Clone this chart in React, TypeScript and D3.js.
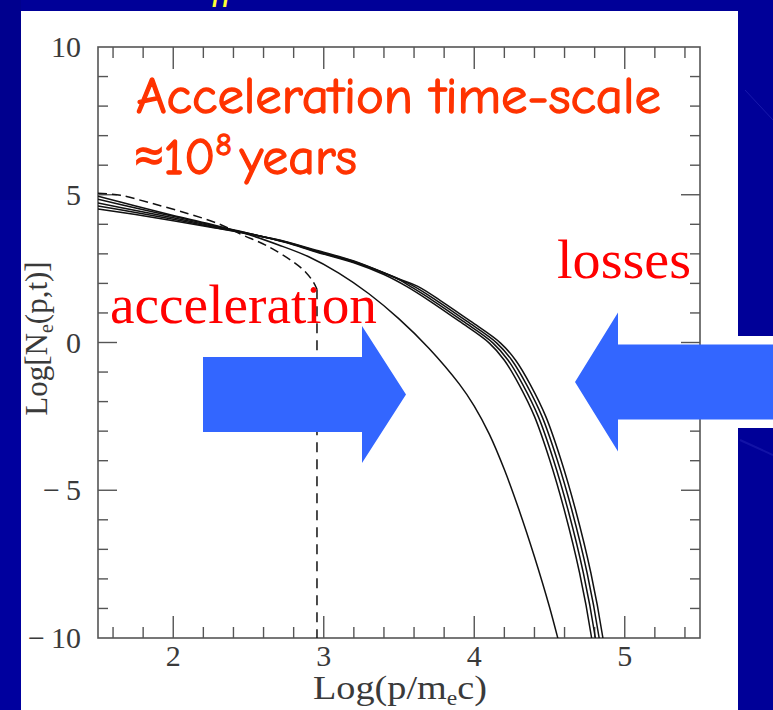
import React from "react";
import * as d3 from "d3";

// Electron spectra Log N_e(p,t) versus Log(p / m_e c) at successive times
const xTickValues = [2, 3, 4, 5];
const yTickValues = [10, 5, 0, -5, -10];
const yTickLabels = ["10", "5", "0", "\u2212\u20095", "\u2212\u200910"];

const spectrumA = [
  [1.5, 4.95], [1.75, 4.62], [2.0, 4.3], [2.25, 4.0], [2.5, 3.65], [2.7, 3.3],
  [2.9, 2.9], [3.1, 2.35], [3.3, 1.65], [3.5, 0.8], [3.7, -0.2], [3.9, -1.4],
  [4.0, -2.15], [4.1, -3.1], [4.2, -4.3], [4.3, -5.7], [4.4, -7.25], [4.5, -8.95],
  [4.56, -10.1], [4.58, -10.5],
];
const spectrumB = [
  [1.5, 4.85], [1.75, 4.55], [2.0, 4.27], [2.25, 3.98], [2.5, 3.7], [2.75, 3.38],
  [2.95, 3.06], [3.2, 2.7], [3.4, 2.3], [3.55, 1.9], [3.7, 1.42], [3.9, 0.72],
  [4.1, -0.02], [4.2, -0.6], [4.3, -1.45], [4.4, -2.5], [4.5, -3.95], [4.6, -5.7],
  [4.7, -7.8], [4.78, -10], [4.79, -10.4],
];
const spectrumC = [
  [1.5, 4.72], [1.75, 4.47], [2.0, 4.22], [2.25, 3.95], [2.5, 3.69], [2.75, 3.39],
  [2.95, 3.08], [3.2, 2.72], [3.5, 2.13], [3.575, 1.9], [3.725, 1.42], [3.925, 0.72],
  [4.125, -0.02], [4.225, -0.6], [4.325, -1.45], [4.425, -2.5], [4.525, -3.95],
  [4.625, -5.7], [4.725, -7.8], [4.805, -10], [4.815, -10.4],
];
const spectrumD = [
  [1.5, 4.62], [1.75, 4.4], [2.0, 4.17], [2.25, 3.92], [2.5, 3.68], [2.75, 3.4],
  [2.95, 3.1], [3.2, 2.74], [3.5, 2.14], [3.6, 1.9], [3.75, 1.42], [3.95, 0.72],
  [4.15, -0.02], [4.25, -0.6], [4.35, -1.45], [4.45, -2.5], [4.55, -3.95],
  [4.65, -5.7], [4.75, -7.8], [4.83, -10], [4.84, -10.4],
];
const spectrumE = [
  [1.5, 4.52], [1.75, 4.33], [2.0, 4.12], [2.25, 3.9], [2.5, 3.67], [2.75, 3.41],
  [2.95, 3.12], [3.2, 2.76], [3.5, 2.15], [3.625, 1.9], [3.775, 1.42], [3.975, 0.72],
  [4.175, -0.02], [4.275, -0.6], [4.375, -1.45], [4.475, -2.5], [4.575, -3.95],
  [4.675, -5.7], [4.775, -7.8], [4.855, -10], [4.865, -10.4],
];
const solidSpectra = [spectrumA, spectrumB, spectrumC, spectrumD, spectrumE];

// Initial (injection) spectrum: dashed, with a sharp cut-off
const initialSpectrum = [
  [1.5, 5.05], [1.65, 4.98], [1.85, 4.72], [2.1, 4.36], [2.3, 4.02], [2.46, 3.64],
  [2.62, 3.28], [2.8, 2.72], [2.88, 2.38], [2.93, 2.05], [2.955, 1.8],
];
const initialCutoff = [[2.955, 1.8], [2.955, -10]];

const W = 773;
const H = 710;
const frame = { left: 98, right: 700, top: 47, bottom: 638 };

const x = d3.scaleLinear().domain([1.5, 5.5]).range([frame.left, frame.right]);
const y = d3.scaleLinear().domain([-10, 10]).range([frame.bottom, frame.top]);

const line = d3
  .line<number[]>()
  .x((d) => x(d[0]))
  .y((d) => y(d[1]))
  .curve(d3.curveCatmullRom.alpha(0.5));
const straight = d3
  .line<number[]>()
  .x((d) => x(d[0]))
  .y((d) => y(d[1]));

const xMinor = d3.range(8, 28).map((i) => i / 5);
const yMinor = d3.range(-9, 10);

const AXIS = "#555";
const LABEL = "#3a3a3a";
const ARROW = "#3366ff";
const BG = "#000098";

function arrowPoints(x0: number, x1: number, xTip: number, cy: number, body: number, head: number) {
  return [
    [x0, cy - body], [x1, cy - body], [x1, cy - head], [xTip, cy],
    [x1, cy + head], [x1, cy + body], [x0, cy + body],
  ].map((p) => p.join(",")).join(" ");
}

export default function App() {
  const serif = "'Liberation Serif', 'Times New Roman', serif";
  const comic = "'Comic Sans MS', 'Comic Neue', 'Open Sans', sans-serif";
  return (
    <svg
      width={W}
      height={H}
      viewBox={`0 0 ${W} ${H}`}
      style={{ position: "absolute", left: 0, top: 0, display: "block" }}
    >
      <rect x={0} y={0} width={W} height={H} fill={BG} />
      <rect x={0} y={0} width={21} height={200} fill="#00008e" />
      <rect x={0} y={420} width={21} height={290} fill="#00009e" />
      <line x1={745} y1={90} x2={773} y2={120} stroke="#2a2ab8" strokeWidth={1} opacity={0.6} />
      <line x1={740} y1={440} x2={773} y2={455} stroke="#1f1fb0" strokeWidth={2} opacity={0.6} />

      {/* cropped title descenders above the panel */}
      <text x={212} y={-1} fill="#ffff33" fontFamily={serif} fontStyle="italic" fontSize={38}>
        ff
      </text>

      {/* white slide panel */}
      <rect x={21} y={11} width={717} height={H - 11} fill="#ffffff" />
      <rect x={738} y={336} width={W - 738} height={92} fill="#ffffff" />

      {/* frame */}
      <rect
        x={frame.left}
        y={frame.top}
        width={frame.right - frame.left}
        height={frame.bottom - frame.top}
        fill="none"
        stroke={AXIS}
        strokeWidth={1.6}
      />
      {xMinor.map((v) => {
        const major = Math.abs(v - Math.round(v)) < 1e-6;
        const len = major ? 22 : 11;
        return (
          <g key={`xt${v}`} stroke={AXIS} strokeWidth={1.4}>
            <line x1={x(v)} x2={x(v)} y1={frame.bottom} y2={frame.bottom - len} />
            <line x1={x(v)} x2={x(v)} y1={frame.top} y2={frame.top + len} />
          </g>
        );
      })}
      {yMinor.map((v) => {
        const major = v % 5 === 0;
        const len = major ? 19 : 10;
        return (
          <g key={`yt${v}`} stroke={AXIS} strokeWidth={1.4}>
            <line x1={frame.left} x2={frame.left + len} y1={y(v)} y2={y(v)} />
            <line x1={frame.right} x2={frame.right - len} y1={y(v)} y2={y(v)} />
          </g>
        );
      })}

      {xTickValues.map((v) => (
        <text
          key={`xl${v}`}
          x={x(v)}
          y={666}
          textAnchor="middle"
          fontFamily={serif}
          fontSize={30}
          fill={LABEL}
        >
          {v}
        </text>
      ))}
      {yTickValues.map((v, i) => (
        <text
          key={`yl${v}`}
          x={81}
          y={y(v) + 10}
          textAnchor="end"
          fontFamily={serif}
          fontSize={30}
          fill={LABEL}
        >
          {yTickLabels[i]}
        </text>
      ))}

      <text
        x={313}
        y={699}
        fontFamily={serif}
        fontSize={34}
        fill={LABEL}
        textLength={174}
        lengthAdjust="spacingAndGlyphs"
      >
        Log(p/m<tspan fontSize={21} dy={6}>e</tspan>
        <tspan dy={-6}>c)</tspan>
      </text>
      <text
        transform={`translate(47, ${y(0) - 4}) rotate(-90)`}
        textAnchor="middle"
        fontFamily={serif}
        fontSize={31}
        fill={LABEL}
      >
        Log[N<tspan fontSize={20} dy={6}>e</tspan>
        <tspan dy={-6}>(p,t)]</tspan>
      </text>

      <defs>
        <clipPath id="plot-area">
          <rect
            x={frame.left}
            y={frame.top}
            width={frame.right - frame.left}
            height={frame.bottom - frame.top}
          />
        </clipPath>
      </defs>
      <g clipPath="url(#plot-area)" fill="none" stroke="#111" strokeWidth={1.5}>
        {solidSpectra.map((s, i) => (
          <path key={`s${i}`} d={line(s as number[][]) || ""} />
        ))}
        <path d={line(initialSpectrum) || ""} strokeDasharray="9,5" />
        <path d={straight(initialCutoff) || ""} strokeDasharray="10,7" />
      </g>

      {/* annotations */}
      <text
        x={136}
        y={113}
        fontFamily={comic}
        fontSize={50}
        fill="#ff3300"
        stroke="#ff3300"
        strokeWidth={1.3}
        textLength={525}
        lengthAdjust="spacingAndGlyphs"
      >
        Acceleration time-scale
      </text>
      <text
        x={134}
        y={174}
        fontFamily={comic}
        fontSize={51}
        fill="#ff3300"
        stroke="#ff3300"
        strokeWidth={1.3}
        textLength={223}
        lengthAdjust="spacingAndGlyphs"
      >
        <tspan>{"\u224810"}</tspan>
        <tspan fontSize={31} dy={-19}>8</tspan>
        <tspan dy={19} dx={8}>years</tspan>
      </text>
      <text
        x={110}
        y={323}
        fontFamily={serif}
        fontSize={55}
        fill="#ff0000"
        textLength={267}
        lengthAdjust="spacingAndGlyphs"
      >
        acceleration
      </text>
      <text
        x={557}
        y={278}
        fontFamily={serif}
        fontSize={55}
        fill="#ff0000"
        textLength={134}
        lengthAdjust="spacingAndGlyphs"
      >
        losses
      </text>

      <polygon points={arrowPoints(203, 362, 406, 394.5, 37.5, 68.5)} fill={ARROW} />
      <polygon points={arrowPoints(W, 618, 575, 382, 37.5, 69.5)} fill={ARROW} />
    </svg>
  );
}
